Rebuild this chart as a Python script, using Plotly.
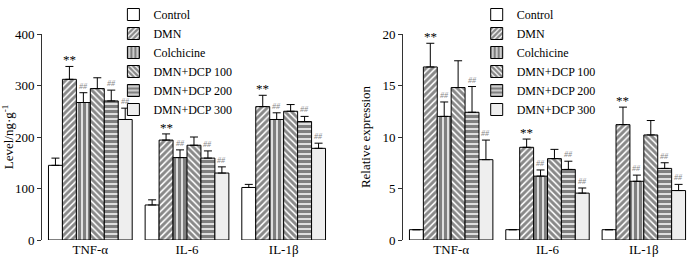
import plotly.graph_objects as go

categories = ["TNF-α", "IL-6", "IL-1β"]
groups = ["Control", "DMN", "Colchicine", "DMN+DCP 100", "DMN+DCP 200", "DMN+DCP 300"]

# Left panel: Level / ng·g-1 (rows = groups, columns = categories)
level_vals = [
    [145, 68, 102],
    [312, 194, 259],
    [267, 160, 234],
    [294, 184, 250],
    [270, 159, 230],
    [234, 130, 178],
]
level_err = [
    [14, 10, 6],
    [25, 12, 22],
    [19, 15, 13],
    [21, 16, 13],
    [21, 14, 10],
    [22, 12, 10],
]

# Right panel: relative expression
rel_vals = [
    [1.0, 1.0, 1.0],
    [16.8, 9.0, 11.2],
    [12.0, 6.2, 5.7],
    [14.8, 7.9, 10.2],
    [12.4, 6.85, 6.95],
    [7.8, 4.55, 4.8],
]
rel_err = [
    [0, 0, 0],
    [2.3, 0.8, 1.7],
    [1.4, 0.6, 0.6],
    [2.6, 0.9, 1.4],
    [2.5, 0.8, 0.55],
    [1.9, 0.5, 0.6],
]

# significance marks per group (same for all categories)
sig_marks = ["", "**", "##", "", "##", "##"]

FONT = "Liberation Serif"
BARGAP = 0.134

styles = [
    dict(color="white", pattern=None),
    dict(color="white", pattern=dict(shape="/", fgcolor="#111111", bgcolor="white", size=4.5, solidity=0.65)),
    dict(color="white", pattern=dict(shape="|", fgcolor="black", bgcolor="white", size=5, solidity=0.7)),
    dict(color="white", pattern=dict(shape="\\", fgcolor="#111111", bgcolor="white", size=4.5, solidity=0.65)),
    dict(color="white", pattern=dict(shape="-", fgcolor="black", bgcolor="white", size=5, solidity=0.7)),
    dict(color="#eeeeee", pattern=None),
]

fig = go.Figure()

def add_panel(vals, errs, xa, ya, legend):
    for i, g in enumerate(groups):
        marker = dict(color=styles[i]["color"], line=dict(color="black", width=1))
        if styles[i]["pattern"]:
            marker["pattern"] = styles[i]["pattern"]
        fig.add_trace(go.Bar(
            x=categories, y=vals[i], name=g, marker=marker,
            error_y=dict(type="data", array=errs[i], arrayminus=[0] * len(errs[i]),
                         symmetric=False, color="black", thickness=1, width=4,
                         visible=True),
            xaxis=xa, yaxis=ya, legend=legend, showlegend=True,
        ))
        n = len(groups)
        gw = 1 - BARGAP
        for c in range(len(categories)):
            mark = sig_marks[i]
            if not mark:
                continue
            xpos = c - gw / 2 + (i + 0.5) * gw / n
            ypos = vals[i][c] + errs[i][c]
            if mark == "**":
                fig.add_annotation(x=xpos, y=ypos, xref=xa, yref=ya, text="**",
                                   showarrow=False, yanchor="bottom", yshift=-3,
                                   font=dict(family=FONT, size=13, color="black"))
            else:
                fig.add_annotation(x=xpos, y=ypos, xref=xa, yref=ya, text="<i>##</i>",
                                   showarrow=False, yanchor="bottom", yshift=0,
                                   font=dict(family=FONT, size=8, color="#888888"))

add_panel(level_vals, level_err, "x", "y", "legend")
add_panel(rel_vals, rel_err, "x2", "y2", "legend2")

ydom = [19 / 259, 225 / 259]
axis_common = dict(showgrid=False, zeroline=False, automargin=False,
                   tickfont=dict(family=FONT, size=13, color="black"))

fig.update_layout(
    width=700, height=259, autosize=False,
    margin=dict(l=0, r=0, t=0, b=0, autoexpand=False),
    paper_bgcolor="white", plot_bgcolor="white",
    font=dict(family=FONT, size=13, color="black"),
    barmode="group", bargap=BARGAP, bargroupgap=0,
    xaxis=dict(domain=[42 / 700, 332 / 700], range=[-0.5, 2.5], showline=False, ticks="",
               anchor="y", **axis_common),
    yaxis=dict(domain=ydom, range=[0, 400], dtick=100, showline=True, linecolor="#333333",
               linewidth=1, ticks="outside", ticklen=4, tickcolor="#333333", anchor="x",
               title=dict(text="Level/ng·g<sup>-1</sup>", font=dict(family=FONT, size=13, color="black"), standoff=6),
               **axis_common),
    xaxis2=dict(domain=[403 / 700, 692 / 700], range=[-0.5, 2.5], showline=False, ticks="",
                anchor="y2", **axis_common),
    yaxis2=dict(domain=ydom, range=[0, 20], dtick=5, showline=True, linecolor="#333333",
                linewidth=1, ticks="outside", ticklen=4, tickcolor="#333333", anchor="x2",
                title=dict(text="Relative expression", font=dict(family=FONT, size=13, color="black"), standoff=8),
                **axis_common),
    legend=dict(x=0.162, y=1.0, xanchor="left", yanchor="top", bgcolor="rgba(0,0,0,0)",
                font=dict(family=FONT, size=12, color="black"), tracegroupgap=0),
    legend2=dict(x=0.681, y=1.0, xanchor="left", yanchor="top", bgcolor="rgba(0,0,0,0)",
                 font=dict(family=FONT, size=12, color="black"), tracegroupgap=0),
)

fig.write_html("out.html", config={"displayModeBar": False},
               post_script="document.body.style.margin='0';document.body.style.overflow='hidden';")
